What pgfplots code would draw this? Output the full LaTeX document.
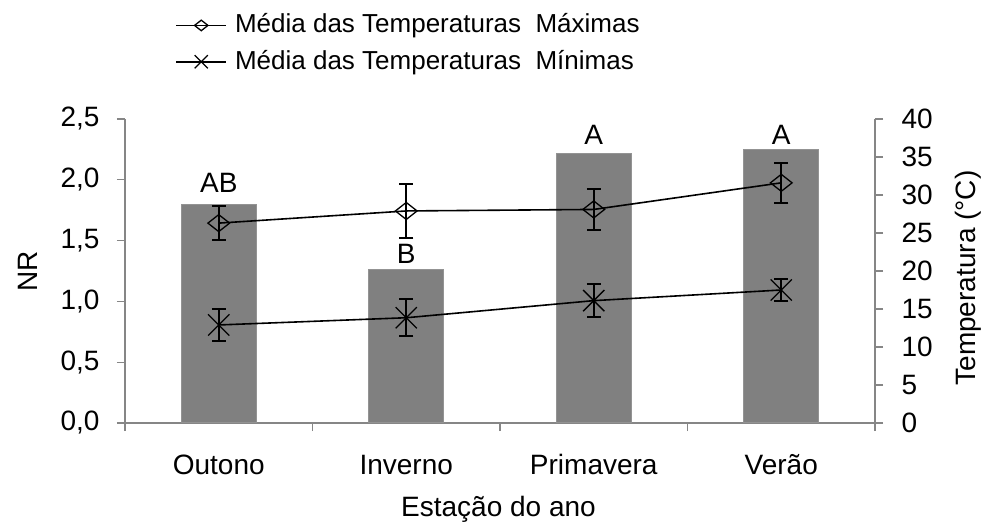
\documentclass[border=0pt]{standalone}
\usepackage{pgfplots}
\pgfplotsset{compat=1.18}
\usepackage{fontspec}
\setmainfont{Liberation Sans}
\definecolor{axgray}{RGB}{134,134,134}
\definecolor{bargray}{RGB}{128,128,128}
\begin{document}
\fontsize{28}{33}\selectfont
\begin{tikzpicture}
\pgfplotsset{
  common/.style={
    scale only axis, width=750pt, height=304pt,
    xmin=-0.5, xmax=3.5,
    /pgf/number format/assume math mode=true,
    tick label style={font=\fontsize{28}{33}\selectfont, text=black},
    label style={font=\fontsize{28}{33}\selectfont, text=black},
    major tick length=8pt,
    tick align=outside,
    every tick/.style={axgray, line width=1.2pt},
    axis line style={axgray, line width=1.2pt, -},
    clip=false,
  }
}
\begin{axis}[common,
  axis y line*=left, axis x line*=bottom,
  ytick pos=left, xtick pos=bottom,
  ymin=0, ymax=2.5, ytick={0,0.5,1,1.5,2,2.5},
  xtick={-0.5,0.5,1.5,2.5,3.5}, xticklabels={},
  yticklabel style={xshift=-8pt, /pgf/number format/.cd, fixed, fixed zerofill, precision=1, use comma},
  ylabel={NR},
  ylabel style={at={(axis description cs:-0.129,0.5)}, anchor=center},
]
\addplot[ybar, bar width=0.4, fill=bargray, draw=gray!85, line width=1pt] coordinates {(0,1.80) (1,1.26) (2,2.22) (3,2.25)};
\addplot[draw=none, nodes near coords, point meta=explicit symbolic,
  nodes near coords style={anchor=base, font=\fontsize{28}{33}\selectfont, text=black}]
  coordinates {(0,1.897)[AB] (1,1.313)[B] (2,2.292)[A] (3,2.292)[A]};
\end{axis}
\begin{axis}[common,
  axis y line*=right, axis x line*=bottom,
  ytick pos=right, yticklabel pos=right, xtick pos=bottom,
  x axis line style={draw=none},
  ymin=0, ymax=40, ytick={0,5,10,15,20,25,30,35,40},
  yticklabel style={xshift=9pt},
  xtick={0,1,2,3}, xticklabels={Outono,Inverno,Primavera,Verão},
  x tick style={draw=none},
  xticklabel style={anchor=base, yshift=-43pt},
  xlabel={Estação do ano},
  xlabel style={at={(axis description cs:0.498,-0.309)}, anchor=base},
  ylabel={Temperatura (°C)},
  ylabel style={at={(axis description cs:1.124,0.477)}, anchor=center},
  legend style={at={(axis description cs:0.063,1.36)}, anchor=north west, draw=none, fill=none,
    font=\fontsize{26}{31}\selectfont, row sep=9pt, nodes={inner sep=2pt}, cells={anchor=west}},
  legend image code/.code={\path (0pt,0pt) (56pt,0pt);\draw[mark repeat=2,mark phase=2,#1, every mark/.append style={scale=0.62}] plot coordinates {(0pt,0pt) (25pt,0pt) (50pt,0pt)};},
]
\addplot[black, line width=1.6pt, mark=diamond, mark size=8.5pt, mark options={xscale=1.7, solid, line width=1.3pt},
  error bars/.cd, y dir=both, y explicit,
  error bar style={line width=2pt, black}, error mark options={rotate=90, line width=2pt, mark size=7pt, black}]
  coordinates {(0,26.3) +- (0,2.25) (1,27.9) +- (0,3.55) (2,28.1) +- (0,2.7) (3,31.6) +- (0,2.65)};
\addlegendentry{Média das Temperaturas\ \ Máximas}
\addplot[black, line width=1.6pt, mark=x, mark size=15pt, mark options={solid, line width=1.3pt},
  error bars/.cd, y dir=both, y explicit,
  error bar style={line width=2pt, black}, error mark options={rotate=90, line width=2pt, mark size=7pt, black}]
  coordinates {(0,12.9) +- (0,2.1) (1,13.85) +- (0,2.45) (2,16.1) +- (0,2.2) (3,17.5) +- (0,1.4)};
\addlegendentry{Média das Temperaturas\ \ Mínimas}
\end{axis}
\pgfresetboundingbox
\path (-125pt,-109pt) rectangle (867pt,423pt);
\end{tikzpicture}
\end{document}
